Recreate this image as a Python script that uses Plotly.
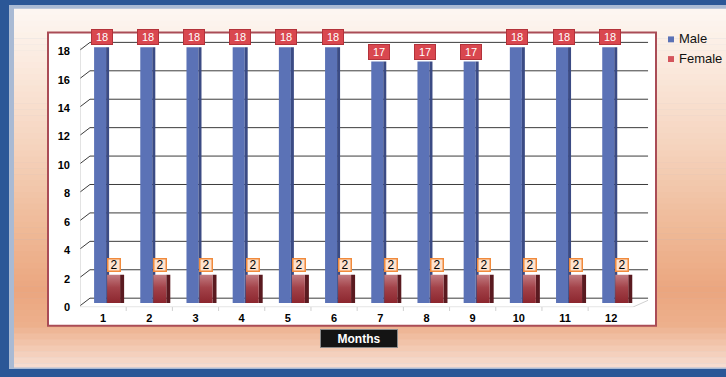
import plotly.graph_objects as go

# ---- data -------------------------------------------------------------
months = [str(m) for m in range(1, 13)]
male = [18, 18, 18, 18, 18, 18, 17, 17, 17, 18, 18, 18]
female = [2, 2, 2, 2, 2, 2, 2, 2, 2, 2, 2, 2]
y_ticks = [0, 2, 4, 6, 8, 10, 12, 14, 16, 18]
series_names = ["Male", "Female"]
x_title = "Months"

# ---- canvas helpers (paper coordinates from pixels) ---------------------
W, H = 726, 377


def px(x):
    return x / W


def py(y):
    return 1 - y / H


FONT = "Liberation Sans, Arial, sans-serif"
MALE_FRONT, MALE_SIDE = "#5b72b6", "#3b4b84"
FEMALE_TOP, FEMALE_BOTTOM, FEMALE_SIDE = "#c27c82", "#8c262e", "#5a1a20"

idx = list(range(len(months)))
x_range = [-0.5, 11.8]
y_range = [-0.3, 18.6]
GRID_SHIFT = 0.346      # back wall sits a little higher than the front plane
WALL_DX = 0.216         # and a little to the right
F_OFF, F_W = 0.087, 0.281

fig = go.Figure()

# male columns: front face + darker side face
fig.add_trace(go.Bar(x=idx, y=male, offset=-0.195, width=0.26,
                     marker=dict(color=MALE_FRONT, line=dict(width=0)),
                     name=series_names[0], showlegend=False, hoverinfo="y"))
fig.add_trace(go.Bar(x=idx, y=male, offset=0.065, width=0.065,
                     marker=dict(color=MALE_SIDE, line=dict(width=0)),
                     showlegend=False, hoverinfo="skip"))
# female columns: shaded side as bars, front face as gradient-filled outlines
fig.add_trace(go.Bar(x=idx, y=female, offset=F_OFF + F_W, width=0.087,
                     marker=dict(color=FEMALE_SIDE, line=dict(width=0)),
                     showlegend=False, hoverinfo="skip"))
fx, fy = [], []
for i, v in zip(idx, female):
    x0, x1 = i + F_OFF, i + F_OFF + F_W
    fx += [x0, x0, x1, x1, x0, None]
    fy += [0, v, v, 0, 0, None]
fig.add_trace(go.Scatter(x=fx, y=fy, mode="lines", fill="toself",
                         line=dict(width=0, color=FEMALE_BOTTOM),
                         fillgradient=dict(type="vertical",
                                           colorscale=[[0, FEMALE_BOTTOM], [0.55, "#a3434a"],
                                                       [1, FEMALE_TOP]]),
                         name=series_names[1], showlegend=False, hoverinfo="skip"))

shapes = []

# outer window frame and gradient panel
shapes.append(dict(type="rect", xref="paper", yref="paper", x0=px(9), x1=px(726),
                   y0=py(375), y1=py(5), fillcolor="#a9bad4", line=dict(width=0),
                   layer="below"))
stops = [(9, (253, 247, 242)), (60, (251, 235, 224)), (150, (245, 211, 189)),
         (230, (239, 186, 152)), (295, (235, 166, 127)), (330, (237, 176, 140)),
         (373, (247, 222, 210))]


def grad(y):
    for (ya, ca), (yb, cb) in zip(stops[:-1], stops[1:]):
        if ya <= y <= yb:
            t = (y - ya) / (yb - ya)
            return "rgb(%d,%d,%d)" % tuple(round(a + (b - a) * t) for a, b in zip(ca, cb))
    return "rgb(%d,%d,%d)" % stops[-1][1]


band_edges = list(range(9, 373, 6)) + [373]
for y0, y1 in zip(band_edges[:-1], band_edges[1:]):
    shapes.append(dict(type="rect", xref="paper", yref="paper", x0=px(14), x1=px(726),
                       y0=py(y1 + 0.5), y1=py(y0), fillcolor=grad((y0 + y1) / 2),
                       line=dict(width=0), layer="below"))

# white chart box
shapes.append(dict(type="rect", xref="paper", yref="paper", x0=px(48), x1=px(656),
                   y0=py(331), y1=py(33), fillcolor="white",
                   line=dict(color="#aa4c56", width=2), layer="below"))

# back-wall gridlines and the slanted ticks joining them to the axis
for v in y_ticks:
    shapes.append(dict(type="line", xref="x", yref="y", x0=-0.5 + WALL_DX, x1=x_range[1],
                       y0=v + GRID_SHIFT, y1=v + GRID_SHIFT,
                       line=dict(color="#3c3c3c", width=1), layer="below"))
    shapes.append(dict(type="line", xref="x", yref="y", x0=-0.5, x1=-0.5 + WALL_DX,
                       y0=v - 0.19, y1=v + GRID_SHIFT,
                       line=dict(color="#3c3c3c", width=1), layer="below"))

# vertical axis line and floor edge
shapes.append(dict(type="line", xref="x", yref="y", x0=-0.5, x1=-0.5,
                   y0=-0.28, y1=y_ticks[-1], line=dict(color="#c8c8c8", width=1),
                   layer="below"))
shapes.append(dict(type="line", xref="x", yref="y", x0=-0.5, x1=11.47,
                   y0=-0.28, y1=-0.28, line=dict(color="#d0d0d0", width=1),
                   layer="below"))
shapes.append(dict(type="line", xref="x", yref="y", x0=11.47, x1=11.8,
                   y0=-0.28, y1=0.2, line=dict(color="#d0d0d0", width=1),
                   layer="below"))
# small separators under the floor between months
for i in idx[:-1]:
    shapes.append(dict(type="line", xref="x", yref="paper", x0=i + 0.5, x1=i + 0.5,
                       y0=py(316), y1=py(312), line=dict(color="#d0d0d0", width=1),
                       layer="below"))

# legend swatches
legend_colors = ["#5b72b6", "#d4545c"]
legend_y = [40, 60]
for c, yc in zip(legend_colors, legend_y):
    shapes.append(dict(type="rect", xref="paper", yref="paper", x0=px(668), x1=px(674),
                       y0=py(yc + 3), y1=py(yc - 3), fillcolor=c, line=dict(width=0)))

annotations = []
for i, v in zip(idx, male):
    annotations.append(dict(x=i - 0.03, y=v, xref="x", yref="y", text=str(v),
                            showarrow=False, yanchor="bottom", yshift=2,
                            font=dict(family=FONT, size=11, color="white"),
                            bgcolor="#d9474f", bordercolor="#b3323a", borderwidth=1,
                            borderpad=1, width=18, height=12))
for i, v in zip(idx, female):
    annotations.append(dict(x=i + 0.238, y=v, xref="x", yref="y", text=str(v),
                            showarrow=False, yanchor="bottom", yshift=3,
                            font=dict(family=FONT, size=12, color="black"),
                            bgcolor="#fde2cf", bordercolor="#f08a3c", borderwidth=1.5,
                            borderpad=0, width=11, height=11))
for name, yc in zip(series_names, legend_y):
    annotations.append(dict(x=px(677), y=py(yc - 1), xref="paper", yref="paper", text=name,
                            showarrow=False, xanchor="left", yanchor="middle",
                            font=dict(family=FONT, size=13, color="#111111")))
annotations.append(dict(x=px(358.5), y=py(353.5), xref="paper", yref="paper",
                        text="<b>%s</b>" % x_title, showarrow=False,
                        font=dict(family=FONT, size=12, color="white"),
                        bgcolor="#141414", bordercolor="#8a8a8a", borderwidth=1,
                        borderpad=2, width=72, height=13))

fig.update_layout(
    width=W, height=H, margin=dict(l=0, r=0, t=0, b=0),
    paper_bgcolor="#2b5797", plot_bgcolor="rgba(0,0,0,0)",
    barmode="overlay", showlegend=False,
    shapes=shapes, annotations=annotations,
    xaxis=dict(domain=[px(80), px(648.2)], range=x_range, tickvals=idx, ticktext=months,
               showgrid=False, zeroline=False, showline=False, ticks="",
               tickfont=dict(family=FONT, size=11, color="black", weight="bold"),
               ticklabelstandoff=3),
    yaxis=dict(domain=[py(312.33), py(39.4)], range=y_range, tickvals=y_ticks,
               showgrid=False, zeroline=False, showline=False, ticks="",
               tickfont=dict(family=FONT, size=11, color="black", weight="bold"),
               ticklabelstandoff=9, ticklabelshift=4),
)

fig.write_html("out.html")
